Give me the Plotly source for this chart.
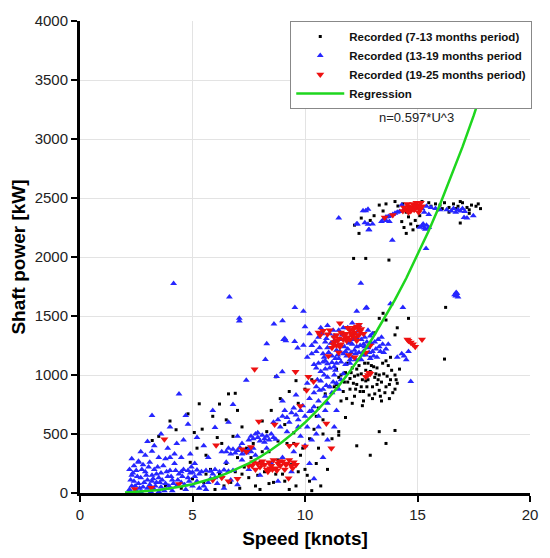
import plotly.graph_objects as go

# ---------------- data ----------------
black_pts = [
    (3.21,445),(4.27,536),(5.08,513),(5.43,541),(5.3,756),(6.2,754),(4.8,671),(6.9,845),(8.7,985),(9.6,952),
    (3.8,60),(4.5,40),(5.0,120),(5.5,90),(5.8,200),(6.0,30),(6.2,160),(6.5,250),(6.7,90),(6.9,180),
    (7.1,40),(7.3,220),(7.5,130),(7.6,300),(7.8,60),(8.0,260),(8.2,180),(8.4,350),(8.6,90),(8.8,280),
    (9.0,160),(9.2,420),(9.4,240),(9.6,60),(9.8,320),(10.0,200),(10.2,460),(10.4,540),(10.6,380),(10.8,620),
    (10.1,150),(10.5,250),(6.3,420),(6.8,480),(7.2,560),(7.7,420),(8.1,610),(8.5,700),(8.9,800),(9.3,860),
    (9.7,760),(10.0,880),(10.3,960),(10.6,720),(10.9,840),(11.1,900),(7.0,700),(6.5,620),(5.6,320),(4.9,260),
    (5.2,380),(6.1,470),(7.4,380),(8.3,520),(9.1,580),(10.7,60),(10.3,20),(9.9,380),(11.2,460),(11.5,520),
    (12.3,400),(12.9,320),(13.6,420),(13.3,520),(11.8,640),(12.1,760),(8.0,30),(7.0,300),(5.9,650),(6.6,840),
    (3.5,480),(4.0,610),(8.8,440),(9.5,510),(14.0,530),(11.5,490),
    (7.9,150),(8.4,80),(8.7,160),(9.1,100),(9.3,30),(9.7,180),(10.2,100),(6.4,60),(5.6,160),(7.2,160),
    (8.1,350),(9.5,420),(10.8,500),(11.0,200),(10.5,650),
    (11.3,900),(11.5,980),(11.7,860),(11.8,1020),(11.9,940),(12.0,880),(12.1,1060),(12.2,990),(12.3,920),(12.4,1080),
    (12.5,1010),(12.6,860),(12.7,950),(12.8,1100),(12.9,1030),(13.0,900),(13.1,980),(13.2,1060),(13.3,870),(13.4,940),
    (13.5,1010),(13.6,900),(13.7,1080),(13.8,960),(13.9,850),(14.0,1000),(12.2,820),(12.6,780),(13.0,800),(12.4,1130),
    (12.9,1150),(11.6,780),(11.9,1100),(12.7,1040),(13.2,920),(13.6,1120),(12.3,1050),(13.1,840),(12.0,970),(11.4,1050),
    (13.4,780),(13.8,1150),(14.0,880),(14.1,930),(12.5,900),(12.8,960),(13.3,1000),(12.45,860),(13.05,1070),(12.15,930),
    (11.4,920),(11.6,1000),(11.75,940),(12.05,1020),(12.25,880),(12.35,1000),(12.55,960),(12.65,1100),(12.75,900),(12.95,1080),
    (13.15,1010),(13.25,960),(13.45,1100),(13.55,850),(13.65,990),(13.75,920),(13.85,1040),(14.05,960),(12.85,830),(13.35,820),
    (11.85,800),(12.55,740),(13.75,800),(14.2,1050),
    (13.47,1523),(13.6,1466),(13.3,1480),(14.6,1480),(14.0,1340),(14.1,1400),(13.1,1358),(16.2,1135),(16.25,1573),
    (12.16,1988),(12.7,1988),(13.73,1974),
    (15.6,2430),(15.8,2450),(16.0,2440),(16.2,2460),(16.4,2420),(16.6,2450),(16.8,2430),(17.0,2460),(17.2,2420),(17.4,2440),
    (17.6,2430),(17.8,2410),(17.7,2450),(16.1,2410),(16.9,2470),(17.3,2400),(15.9,2400),(16.7,2410),
    (14.3,2300),(14.4,2250),(14.5,2200),(14.6,2340),(14.7,2280),(14.8,2230),(14.9,2310),(15.0,2260),(15.1,2350),(14.5,2380),
    (16.9,2288),(17.3,2370),(16.4,2380),
    (13.07,2350),(13.47,2390),(14.13,2432),(14.35,2450),(12.9,2310),(12.5,2330),(12.2,2270),(13.3,2440),(13.6,2450),(14.0,2470),
    (12.4,2200),(15.2,2470),(15.5,2460),
]

blue_pts = [
    (2.2,30),(2.3,60),(2.4,100),(2.3,150),(2.5,20),(2.6,80),(2.7,130),(2.8,50),(2.9,180),(3.0,40),
    (3.0,110),(3.1,70),(3.2,150),(3.3,30),(3.3,200),(3.4,90),(3.5,130),(3.6,50),(3.6,170),(3.7,230),
    (3.8,80),(3.9,140),(4.0,40),(4.0,190),(4.1,110),(4.2,250),(4.3,60),(4.4,160),(4.5,90),(4.6,200),
    (4.7,30),(4.8,130),(4.9,170),(5.0,60),(2.5,190),(2.8,240),(3.1,260),(3.5,300),(2.9,320),(3.8,290),
    (4.2,330),(4.5,300),(2.4,230),(2.6,270),(3.2,100),(3.4,160),(2.2,200),(2.7,10),(3.5,10),(4.1,20),
    (2.25,110),(2.35,170),(2.45,60),(2.55,140),(2.65,40),(2.75,200),(2.85,90),(2.95,150),(3.05,220),(3.15,10),
    (3.25,120),(3.35,60),(3.45,220),(3.55,90),(3.65,110),(3.75,20),(3.85,180),(3.95,60),(4.05,140),(4.15,80),
    (4.25,190),(4.35,110),(4.55,140),(4.65,70),(4.85,100),(4.95,220),(5.1,140),(5.3,40),(5.7,90),(6.0,130),
    (2.3,290),(2.7,350),(3.3,400),(4.6,450),(4.0,560),
    (4.5,180),(4.8,190),(5.0,175),(5.2,195),(5.4,180),(5.6,190),(5.8,185),(6.0,200),(6.2,180),(6.4,195),
    (6.6,185),(6.8,190),(5.3,160),(5.9,160),
    (5.2,100),(5.5,60),(5.8,120),(6.1,80),(6.4,40),(6.7,110),(7.0,70),(5.6,30),(6.3,140),
    (2.6,260),(3.0,436),(3.2,354),(3.2,657),(4.4,839),(4.7,657),(4.8,582),(6.0,555),(5.5,400),(4.9,330),
    (5.7,300),(3.9,380),(4.3,420),(5.2,470),(6.3,350),(6.6,600),(7.0,480),(5.9,700),(6.8,750),(3.6,500),
    (4.0,300),(5.1,250),(6.5,260),(7.2,280),
    (6.5,350),(6.7,330),(6.8,370),(6.9,340),(7.0,360),(7.1,385),(7.2,330),(7.3,355),(7.4,340),(7.5,370),
    (7.6,350),(6.6,380),
    (7.5,450),(7.6,480),(7.7,460),(7.8,500),(7.9,470),(8.0,440),(8.1,490),(8.2,460),(8.3,480),(8.4,450),
    (8.5,500),(8.6,470),(8.7,455),(7.9,510),(8.2,430),
    (8.8,620),(9.0,650),(9.1,700),(9.2,640),(9.4,680),(9.5,720),(9.6,660),(9.7,620),(9.8,700),(10.0,650),
    (10.2,690),(10.4,730),(9.3,600),(9.9,740),
    (7.5,200),(8.0,150),(8.5,250),(9.0,300),(9.5,350),(10.0,400),(8.8,100),(9.4,180),(10.2,250),(10.5,500),
    (10.8,300),(11.0,450),(10.4,120),(7.8,320),(8.3,380),(9.8,480),(10.9,700),(11.3,560),
    (7.2,420),(7.7,380),(8.9,560),(9.2,520),(9.7,560),(10.1,560),(10.6,560),(10.3,450),(8.6,600),(9.0,780),
    (9.6,830),(10.1,930),
    (10.2,800),(10.4,850),(10.5,900),(10.6,780),(10.7,950),(10.8,880),(10.9,820),(11.0,980),(11.1,900),(11.2,850),
    (11.3,1000),(11.4,930),(11.5,880),(11.6,960),(11.7,1010),(10.3,700),(10.6,650),(11.0,760),(11.4,700),
    (10.4,1090),(10.6,1100),(10.8,1110),(11.0,1095),(11.2,1105),(11.4,1100),(11.6,1110),(11.8,1090),(12.0,1100),(10.5,1060),
    (10.9,1050),(11.3,1070),
    (10.1,1150),(10.3,1250),(10.5,1200),(10.6,1320),(10.8,1180),(10.9,1280),(11.0,1230),(11.1,1350),(11.2,1160),(11.3,1290),
    (11.4,1210),(11.5,1380),(11.6,1250),(11.7,1180),(11.8,1320),(11.9,1220),(12.0,1280),(12.1,1150),(12.2,1350),(12.3,1240),
    (12.4,1190),(12.5,1300),(12.6,1260),(12.7,1170),(12.8,1230),(12.9,1330),(13.0,1200),(13.1,1280),(13.2,1150),(13.3,1240),
    (13.5,1190),(13.7,1260),(11.5,1140),(12.0,1130),(12.5,1130),(11.8,1200),(12.2,1210),(12.6,1200),(12.9,1140),(11.3,1330),
    (11.9,1400),(12.4,1420),(12.8,1380),(10.7,1400),(11.0,1420),(10.2,1350),(13.0,1350),(13.4,1320),(11.6,1300),(12.1,1260),
    (11.75,1240),(12.35,1300),(12.05,1190),(12.65,1320),(11.45,1170),(12.25,1130),(13.15,1220),(12.75,1280),
    (10.3,1180),(10.45,1280),(10.65,1230),(10.75,1350),(10.85,1150),(10.95,1310),(11.05,1190),(11.15,1270),(11.25,1380),(11.35,1140),
    (11.45,1250),(11.55,1200),(11.65,1340),(11.85,1160),(11.95,1270),(12.15,1300),(12.25,1180),(12.45,1250),(12.55,1170),(12.65,1240),
    (12.85,1190),(12.95,1270),(13.05,1160),(13.25,1300),(13.35,1200),(13.45,1260),(13.6,1220),(12.35,1370),(11.7,1400),(12.1,1440),
    (10.9,1120),(11.35,1040),(10.7,1030),(10.55,960),(10.85,1000),(11.1,1060),(11.25,940),(10.95,910),(10.65,870),
    (4.16,1775),(6.64,1662),(9.55,1573),(9.93,1540),(7.08,1458),(7.08,1480),(8.62,1433),(9.0,1460),(10.0,1408),(9.05,1300),
    (9.1,1310),(9.15,1290),(8.3,1265),(8.24,1132),(9.54,1283),(9.67,1228),(9.93,1253),(8.74,988),(8.99,1027),(7.39,955),
    (12.48,1778),(12.3,1540),(12.74,1571),(13.8,1604),(14.35,1571),(12.7,1565),
    (16.7,1670),(16.75,1690),(16.8,1660),(16.72,1700),(16.65,1680),
    (14.1,1150),(14.3,1180),(14.5,1130),(14.6,1200),(14.4,1160),(14.7,944),
    (11.5,2330),(12.29,2280),(12.33,2280),(12.66,2291),(12.8,2277),(12.83,2230),(12.85,2230),(13.0,2280),(12.58,2393),(12.7,2393),
    (12.8,2404),(13.88,2142),(15.38,2073),(13.4,2300),(13.5,2320),(13.6,2340),(13.7,2343),(13.8,2350),(13.9,2360),(14.0,2370),
    (14.1,2380),(14.2,2385),(13.6,2310),(13.75,2300),(14.4,2400),(14.6,2410),(14.8,2400),(15.0,2420),(15.2,2410),(15.4,2430),
    (15.6,2420),(15.8,2410),(16.0,2400),(15.3,2380),(15.5,2360),(15.1,2253),(15.2,2265),(15.3,2245),(15.4,2270),(15.5,2250),
    (15.35,2235),(15.25,2280),(16.3,2400),(16.5,2390),(16.6,2410),(16.7,2380),(16.8,2400),(16.9,2390),(17.0,2410),(17.1,2385),
    (17.07,2335),(17.48,2349),(17.2,2330),(14.3,2440),(14.9,2440),
]

red_pts = [
    (14.5,2400),(14.6,2430),(14.7,2390),(14.8,2450),(14.9,2410),(15.0,2440),(15.1,2400),(15.2,2430),(14.6,2380),(14.75,2420),
    (14.95,2460),(15.05,2380),(14.85,2400),(15.15,2460),(14.55,2450),(13.54,2335),(13.9,2355),(14.35,2390),(14.4,2420),
    (14.65,2410),(14.9,2430),(15.1,2420),
    (11.2,1230),(11.3,1280),(11.4,1250),(11.5,1310),(11.6,1260),(11.3,1320),(11.7,1300),(11.8,1350),(11.9,1320),(12.0,1380),
    (12.1,1330),(12.2,1360),(12.3,1290),(12.4,1340),(12.5,1390),(12.3,1410),(12.4,1425),(12.2,1400),(10.6,1360),(10.8,1375),
    (11.0,1345),(11.1,1380),(11.9,1400),(12.0,1300),(11.6,1360),(12.6,1350),(12.9,1250),(12.7,1190),(11.5,1190),(12.8,1000),
    (12.7,985),(12.9,1010),(12.85,1020),(12.2,1150),(11.95,1170),(14.6,1290),(14.8,1260),(14.9,1240),(15.2,1300),(14.55,1300),
    (14.7,1275),
    (11.25,1260),(11.45,1290),(11.55,1240),(11.75,1330),(11.85,1290),(12.05,1350),(12.15,1390),(12.25,1320),(12.45,1370),(11.4,1340),
    (12.35,1340),
    (7.76,1049),(9.58,1027),(10.67,1336),(11.55,1438),(12.36,1400),(11.04,1162),(10.38,944),(10.07,870),(9.79,737),
    (7.5,230),(7.7,260),(7.8,200),(7.9,250),(8.0,220),(8.1,270),(8.2,240),(8.3,200),(8.4,260),(8.5,230),
    (8.6,280),(8.7,210),(8.8,250),(8.9,230),(9.0,270),(9.1,200),(9.2,250),(9.3,280),(9.4,230),(9.5,260),
    (9.6,240),(8.35,180),(8.75,190),(8.05,250),(8.45,210),(8.85,270),(9.15,240),(9.45,210),(8.55,200),(7.65,230),
    (7.2,370),(7.4,350),(7.6,390),(9.3,400),(9.6,410),(10.0,395),(5.9,110),(6.3,130),(6.6,100),(7.0,120),
    (3.75,455),(6.05,405),(7.95,605),(8.65,580),(10.15,985),(10.95,590),(11.17,380),(9.27,124),
    (2.43,33),(3.17,44),(4.4,77),
]

reg_coef = 0.597   # n = 0.597*U^3 (label on chart)
reg_speed = [2.0, 2.5, 3, 3.5, 4, 4.5, 5, 5.5, 6, 6.5, 7, 7.5, 8, 8.5, 9, 9.5, 10, 10.5, 11, 11.5,
             12, 12.5, 13, 13.5, 14, 14.5, 15, 15.5, 16, 16.5, 17, 17.5, 18, 18.5, 18.9]

x_ticks = [0, 5, 10, 15, 20]
y_ticks = [0, 500, 1000, 1500, 2000, 2500, 3000, 3500, 4000]

# ---------------- figure ----------------
def split(pts):
    return [p[0] for p in pts], [p[1] for p in pts]

bx, by = split(black_pts)
ux, uy = split(blue_pts)
rx, ry = split(red_pts)

fig = go.Figure()
fig.add_trace(go.Scatter(x=bx, y=by, mode="markers", name="<b>Recorded (7-13 months period)</b>",
                         marker=dict(symbol="square", size=3, color="black", line=dict(width=0))))
fig.add_trace(go.Scatter(x=ux, y=uy, mode="markers", name="<b>Recorded (13-19 months period</b>",
                         marker=dict(symbol="triangle-up", size=6, color="#2626ff", line=dict(width=0))))
fig.add_trace(go.Scatter(x=rx, y=ry, mode="markers", name="<b>Recorded (19-25 months period)</b>",
                         marker=dict(symbol="triangle-down", size=7, color="#ee1111", line=dict(width=0))))
fig.add_trace(go.Scatter(x=reg_speed, y=[reg_coef * u ** 3 for u in reg_speed], mode="lines",
                         name="<b>Regression</b>", line=dict(color="#1ed61e", width=2.5)))

fig.add_annotation(x=0.748, y=0.795, xref="paper", yref="paper", text="n=0.597*U^3",
                   showarrow=False, font=dict(size=13, color="#222"), xanchor="center", yanchor="middle")

axis_common = dict(showline=True, linecolor="black", linewidth=3, ticks="outside", ticklen=6,
                   tickwidth=2, tickcolor="black", showgrid=True, gridcolor="#e3e3e3", gridwidth=1,
                   zeroline=False, tickfont=dict(size=15, color="#222", family="Liberation Sans, Arial"),
                   mirror=False)

fig.update_layout(
    width=550, height=558,
    margin=dict(l=80, r=17, t=19, b=56),
    paper_bgcolor="white", plot_bgcolor="white",
    font=dict(family="Liberation Sans, Arial", color="black"),
    xaxis=dict(range=[0, 20], tickvals=x_ticks,
               title=dict(text="<b>Speed [knots]</b>", font=dict(size=19), standoff=10), **axis_common),
    yaxis=dict(range=[0, 4000], tickvals=y_ticks,
               title=dict(text="<b>Shaft power [kW]</b>", font=dict(size=19), standoff=4), **axis_common),
    legend=dict(x=1.005, xanchor="right", y=1.0, yanchor="top", bgcolor="white",
                bordercolor="#888", borderwidth=1, font=dict(size=11.5, color="#111"),
                tracegroupgap=0, itemsizing="trace", itemwidth=48),
    showlegend=True,
)

fig.write_html("out.html")
